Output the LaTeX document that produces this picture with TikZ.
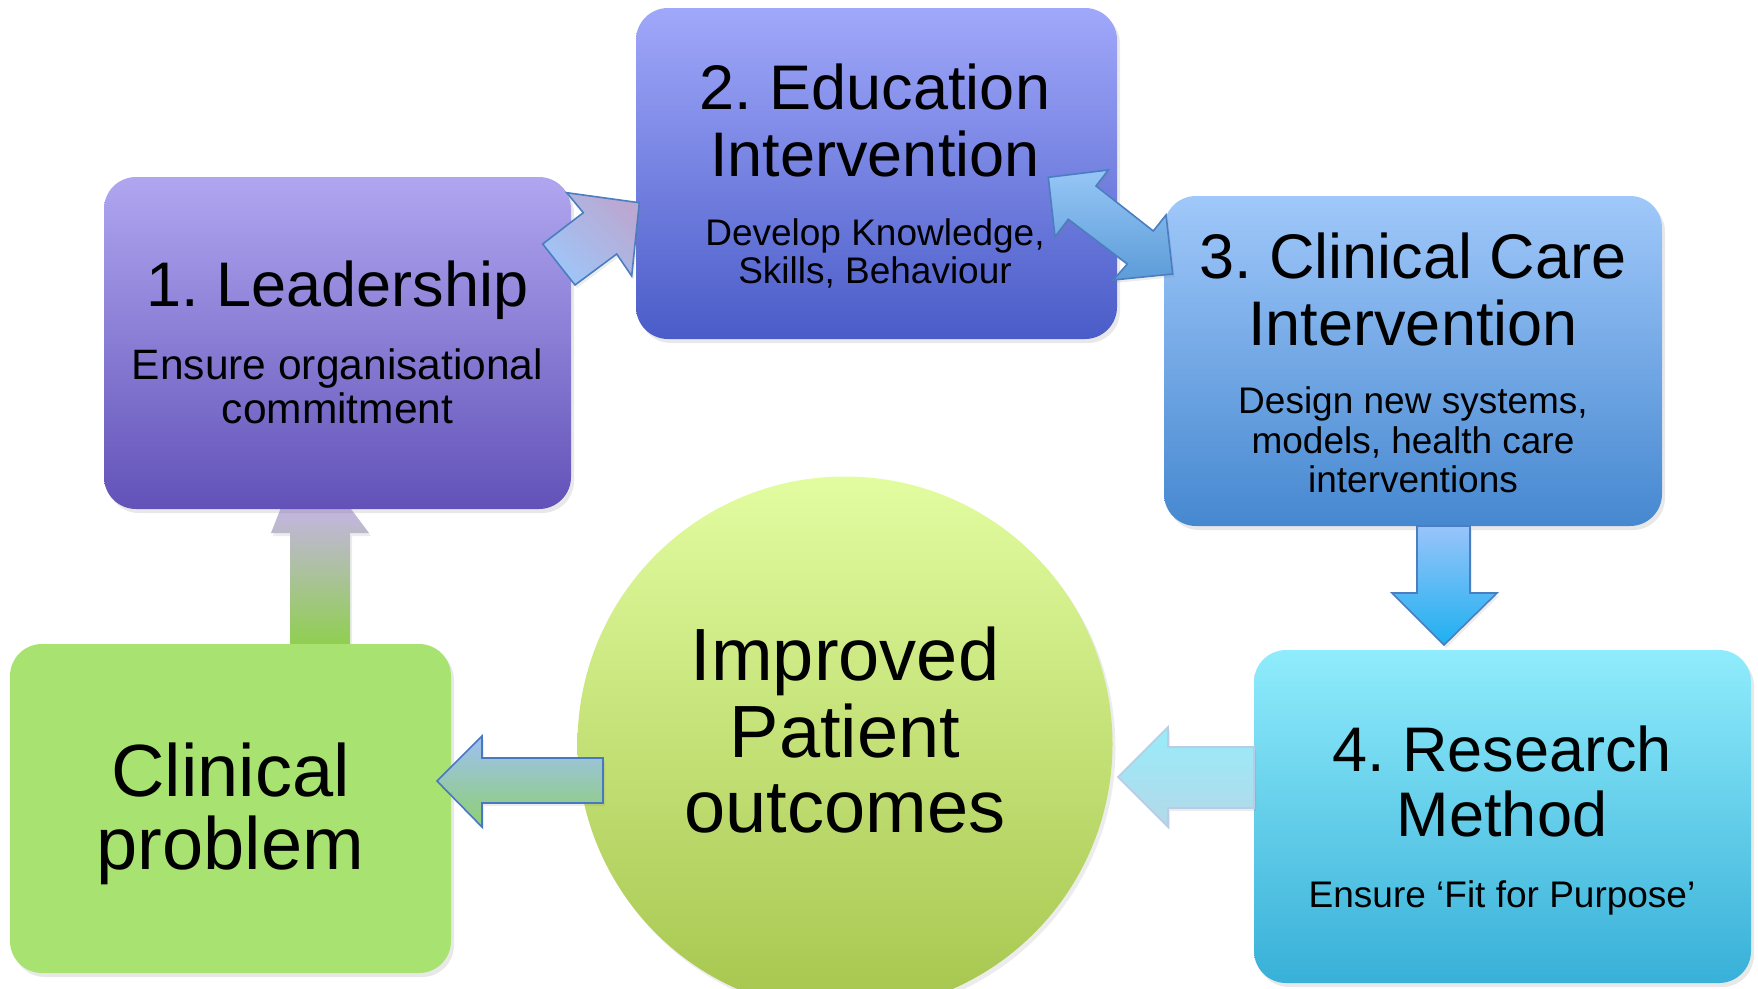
\documentclass[tikz,border=0pt]{standalone}
\usepackage{fontspec}
\setmainfont{Liberation Sans}
\usetikzlibrary{shadows}
\frenchspacing
\definecolor{bAtop}{HTML}{B0A6F0}\definecolor{bAbot}{HTML}{6252B8}
\definecolor{bBtop}{HTML}{A0A8FA}\definecolor{bBbot}{HTML}{4A5CC8}
\definecolor{bCtop}{HTML}{A0C8FA}\definecolor{bCbot}{HTML}{4688D0}
\definecolor{bDtop}{HTML}{90ECFC}\definecolor{bDbot}{HTML}{38B0D8}
\definecolor{clin}{HTML}{A8E270}
\definecolor{circtop}{HTML}{E2FCA0}\definecolor{circbot}{HTML}{A6C64E}
\definecolor{arrline}{HTML}{4A7EC0}
\definecolor{upT}{HTML}{C6B4E6}\definecolor{upB}{HTML}{8ED04C}
\definecolor{aAT}{HTML}{BAA8D2}\definecolor{aAB}{HTML}{9EC6F8}
\definecolor{aBT}{HTML}{96C6F6}\definecolor{aBB}{HTML}{5C9CD8}
\definecolor{aCT}{HTML}{98C4FA}\definecolor{aCB}{HTML}{1EB0F0}
\definecolor{aDT}{HTML}{98ECFA}\definecolor{aDB}{HTML}{B4D8E8}\definecolor{aDL}{HTML}{B8CCE8}
\definecolor{aET}{HTML}{9EC0F4}\definecolor{aEB}{HTML}{8ED070}\definecolor{aEL}{HTML}{4A78C0}
\tikzset{
  box/.style={rounded corners=32pt, inner sep=0pt, draw=none,
    drop shadow={opacity=0.18,shadow xshift=3pt,shadow yshift=-4pt}},
  arr/.style={line width=1.6pt, line join=miter, draw=arrline,
    drop shadow={opacity=0.15,shadow xshift=2pt,shadow yshift=-3pt}},
  ttl/.style={anchor=base, inner sep=0pt, font=\fontsize{63}{66}\selectfont},
  big/.style={anchor=base, inner sep=0pt, font=\fontsize{74}{76}\selectfont},
  sub/.style={anchor=base, inner sep=0pt, font=\fontsize{37}{39}\selectfont},
  subl/.style={anchor=base, inner sep=0pt, font=\fontsize{42.5}{45}\selectfont},
}
\begin{document}
\begin{tikzpicture}[x=1pt,y=-1pt]
\useasboundingbox (0,0) rectangle (1758,988);
\clip (0,0) rectangle (1758,988);

% up arrow: clinical problem -> leadership (head partly hidden behind box 1)
\path[top color=upT, bottom color=upB,
  drop shadow={opacity=0.15,shadow xshift=2pt,shadow yshift=-3pt}]
  (282,505) -- (348,505) -- (369,533) -- (350,533) -- (350,648) -- (290,648) -- (290,533) -- (271,533) -- cycle;

% boxes
\node[box, minimum width=467pt, minimum height=332pt, top color=bAtop, bottom color=bAbot] (lead) at (337.5,343) {};
\node[box, minimum width=441pt, minimum height=329pt, fill=clin] (prob) at (230.5,808.5) {};
\node[box, minimum width=481pt, minimum height=331pt, top color=bBtop, bottom color=bBbot] (edu) at (876.5,173.5) {};
\node[box, minimum width=498pt, minimum height=330pt, top color=bCtop, bottom color=bCbot] (care) at (1413,361) {};
\node[box, minimum width=497pt, minimum height=333pt, top color=bDtop, bottom color=bDbot] (res) at (1502.5,816.5) {};
\node[circle, inner sep=0pt, minimum size=535pt, top color=circtop, bottom color=circbot,
  drop shadow={opacity=0.15,shadow xshift=3pt,shadow yshift=-4pt}] (out) at (845,744) {};

% arrow 1 -> 2
\path[arr, top color=aAT, bottom color=aAB, shading angle=-45]
  (566.7,192.7) -- (639.3,202.7) -- (631.7,276) -- (616.7,254) -- (575,285) -- (542.7,244) -- (583.3,212.7) -- cycle;

% double arrow 2 <-> 3
\path[arr, top color=aBT, bottom color=aBB]
  (1048.3,177.3) -- (1108.3,170) -- (1096,186) -- (1153.3,231) -- (1166,215) -- (1172.7,274)
  -- (1113.3,280) -- (1127.3,264) -- (1068.3,219.3) -- (1055,236.7) -- cycle;

% arrow 3 -> 4
\path[arr, top color=aCT, bottom color=aCB]
  (1417,526) -- (1470,526) -- (1470,593) -- (1497,593) -- (1444,645) -- (1392,593) -- (1417,593) -- cycle;

% arrow 4 -> outcomes
\path[arr, draw=aDL, top color=aDT, bottom color=aDB]
  (1254,747) -- (1168,747) -- (1168,727) -- (1118,777) -- (1168,827) -- (1168,808) -- (1254,808) -- cycle;

% arrow outcomes -> clinical problem
\path[arr, draw=aEL, top color=aET, bottom color=aEB]
  (603,758) -- (482,758) -- (482,736) -- (437,781) -- (482,827) -- (482,803) -- (603,803) -- cycle;

% texts
\node[ttl] (t1) at (337.5,306) {1. Leadership};
\node[subl] (t1a) at (337.5,379) {Ensure organisational};
\node[subl] (t1b) at (337.5,423) {commitment};

\node[ttl] (t2) at (875,109) {2. Education};
\node[ttl] (t2b) at (875,176) {Intervention};
\node[sub] (t2c) at (875,245) {Develop Knowledge,};
\node[sub] (t2d) at (875,283) {Skills, Behaviour};

\node[ttl] (t3) at (1413,278) {3. Clinical Care};
\node[ttl] (t3b) at (1413,345) {Intervention};
\node[sub] (t3c) at (1413,413) {Design new systems,};
\node[sub] (t3d) at (1413,453) {models, health care};
\node[sub] (t3e) at (1413,492) {interventions};

\node[ttl] (t4) at (1502,771) {4. Research};
\node[ttl] (t4b) at (1502,836) {Method};
\node[sub] (t4c) at (1502,907) {Ensure ‘Fit for Purpose’};

\node[big] (tp) at (230.5,796) {Clinical};
\node[big] (tpb) at (230.5,869) {problem};

\node[big] (to) at (845,680) {Improved};
\node[big] (tob) at (845,757) {Patient};
\node[big] (toc) at (845,832) {outcomes};
\end{tikzpicture}
\end{document}
